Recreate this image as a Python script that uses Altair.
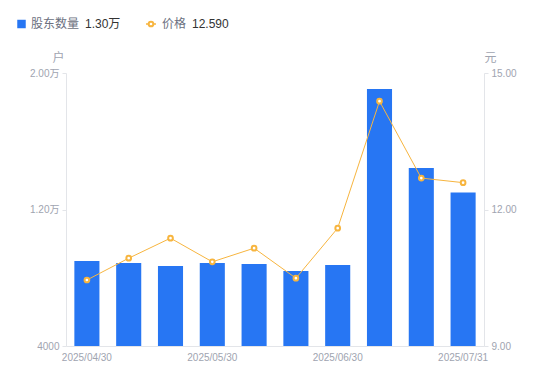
import altair as alt
import pandas as pd

dates = ["2025/04/30", "2025/05/09", "2025/05/20", "2025/05/30", "2025/06/10",
         "2025/06/20", "2025/06/30", "2025/07/10", "2025/07/18", "2025/07/31"]
holders = [8980, 8860, 8690, 8860, 8810, 8400, 8750, 19060, 14430, 13000]
prices = [10.45, 10.93, 11.37, 10.85, 11.15, 10.49, 11.59, 14.38, 12.69, 12.59]
shown_labels = ["2025/04/30", "2025/05/30", "2025/06/30", "2025/07/31"]

df = pd.DataFrame({"date": dates, "holders": holders, "price": prices})

FONT = "'Liberation Sans', 'Noto Sans CJK SC', sans-serif"
GRAY = "#a0a4b0"
AXIS_LINE = "#e3e5e9"
BLUE = "#2776f3"
ORANGE = "#f7b53f"

xenc = alt.X(
    "date:N", sort=dates, title=None,
    scale=alt.Scale(paddingInner=0.4, paddingOuter=0.2),
    axis=alt.Axis(
        labelExpr="indexof(" + str(shown_labels) + ", datum.label) >= 0 ? datum.label : ''",
        labelAngle=0, ticks=False, domainColor=AXIS_LINE, labelColor=GRAY,
        labelFontSize=10, labelPadding=6, labelFont=FONT,
    ),
)

bars = alt.Chart(df).mark_bar(color=BLUE, clip=True).encode(
    x=xenc,
    y=alt.Y(
        "holders:Q",
        scale=alt.Scale(domain=[4000, 20000], nice=False, zero=False),
        axis=alt.Axis(
            values=[4000, 12000, 20000],
            labelExpr="datum.value >= 10000 ? format(datum.value / 10000, '.2f') + '万' : format(datum.value, 'd')",
            title="户", titleAngle=0, titleX=-8, titleY=-16, titleAlign="center",
            titleBaseline="middle", titleColor=GRAY, titleFontSize=12, titleFontWeight="normal",
            titleFont=FONT, grid=False, domainColor=AXIS_LINE, tickColor=AXIS_LINE, tickSize=4,
            labelColor=GRAY, labelFontSize=10, labelFont=FONT, labelPadding=3,
        ),
    ),
)

line = alt.Chart(df).mark_line(
    color=ORANGE, strokeWidth=1,
    point=alt.OverlayMarkDef(shape="circle", filled=True, fill="white", stroke=ORANGE,
                             strokeWidth=2, size=22, opacity=1),
).encode(
    x=alt.X("date:N", sort=dates),
    y=alt.Y(
        "price:Q",
        scale=alt.Scale(domain=[9, 15], nice=False, zero=False),
        axis=alt.Axis(
            orient="right", values=[9, 12, 15], format=".2f",
            title="元", titleAngle=0, titleX=6, titleY=-16, titleAlign="center",
            titleBaseline="middle", titleColor=GRAY, titleFontSize=12, titleFontWeight="normal",
            titleFont=FONT, grid=False, domainColor=AXIS_LINE, tickColor=AXIS_LINE, tickSize=4,
            labelColor=GRAY, labelFontSize=10, labelFont=FONT, labelPadding=3,
        ),
    ),
)

# custom legend
legend_df = pd.DataFrame({"k": [0]})
leg_sq = alt.Chart(legend_df).mark_square(color=BLUE, size=72, opacity=1).encode(
    x=alt.value(-44.5), y=alt.value(-49))
leg_t1 = alt.Chart(legend_df).mark_text(text="股东数量", align="left", baseline="middle",
                                        fontSize=12, color="#6b7080", font=FONT).encode(
    x=alt.value(-35), y=alt.value(-49))
leg_v1 = alt.Chart(legend_df).mark_text(text="1.30万", align="left", baseline="middle",
                                        fontSize=12, color="#333333", font=FONT).encode(
    x=alt.value(19), y=alt.value(-49))
leg_ln = alt.Chart(legend_df).mark_rule(color=ORANGE, strokeWidth=1.5).encode(
    x=alt.value(80), x2=alt.value(90), y=alt.value(-49))
leg_pt = alt.Chart(legend_df).mark_point(shape="circle", filled=True, fill="white", stroke=ORANGE,
                                         strokeWidth=2, size=22, opacity=1).encode(
    x=alt.value(85), y=alt.value(-49))
leg_t2 = alt.Chart(legend_df).mark_text(text="价格", align="left", baseline="middle",
                                        fontSize=12, color="#6b7080", font=FONT).encode(
    x=alt.value(96), y=alt.value(-49))
leg_v2 = alt.Chart(legend_df).mark_text(text="12.590", align="left", baseline="middle",
                                        fontSize=12, color="#333333", font=FONT).encode(
    x=alt.value(126), y=alt.value(-49))

chart = alt.layer(
    bars, line, leg_sq, leg_t1, leg_v1, leg_ln, leg_pt, leg_t2, leg_v2
).resolve_scale(y="independent").properties(
    width=418, height=273,
    autosize=alt.AutoSizeParams(type="none"),
    padding={"left": 58, "top": 65, "right": 50, "bottom": 30},
    background="white",
).configure_view(stroke=None)

chart.save("out.html", embed_options={"renderer": "svg", "actions": False})
